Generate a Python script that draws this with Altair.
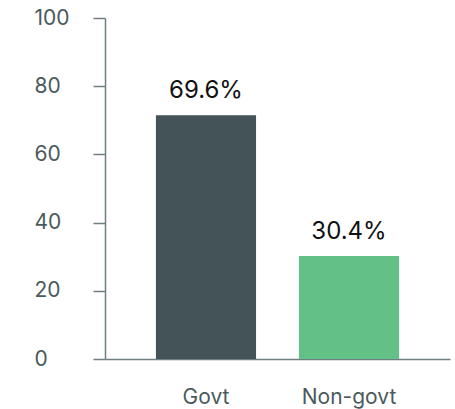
import altair as alt
import pandas as pd

categories = ["Govt", "Non-govt"]
bar_values = [71.5, 30.2]
label_texts = ["69.6%", "30.4%"]
colors = ["#445357", "#63c087"]

df = pd.DataFrame({"cat": categories, "value": bar_values, "label": label_texts, "color": colors})

FONT = "Inter"

x = alt.X("cat:N", sort=categories, title=None,
          scale=alt.Scale(paddingInner=0.3, paddingOuter=0.356),
          axis=alt.Axis(labelAngle=0, ticks=False, labelPadding=27, labelFontSize=21,
                        labelColor="#4a5a5c", labelFont=FONT, domainColor="#6f7f81",
                        domainWidth=1.5))
y = alt.Y("value:Q", title=None,
          scale=alt.Scale(domain=[0, 100], nice=False),
          axis=alt.Axis(values=[0, 20, 40, 60, 80, 100], grid=False, tickSize=12,
                        tickColor="#6f7f81", tickWidth=1.5, domainColor="#6f7f81",
                        domainWidth=1.5, labelAlign="left", labelPadding=59,
                        labelFontSize=21, labelColor="#4a5a5c", labelFont=FONT))

bars = alt.Chart(df).mark_bar().encode(
    x=x, y=y, color=alt.Color("color:N", scale=None)
)
text = alt.Chart(df).mark_text(baseline="bottom", dy=-12, fontSize=24, font=FONT,
                               color="#111111").encode(
    x=alt.X("cat:N", sort=categories), y="value:Q", text="label:N"
)

chart = (bars + text).properties(
    width=345, height=341,
    autosize=alt.AutoSizeParams(type="none"),
    padding={"left": 105, "top": 18, "right": 5, "bottom": 50},
).configure_view(stroke=None)

chart.save("out.html", embed_options={"renderer": "svg", "actions": False})
